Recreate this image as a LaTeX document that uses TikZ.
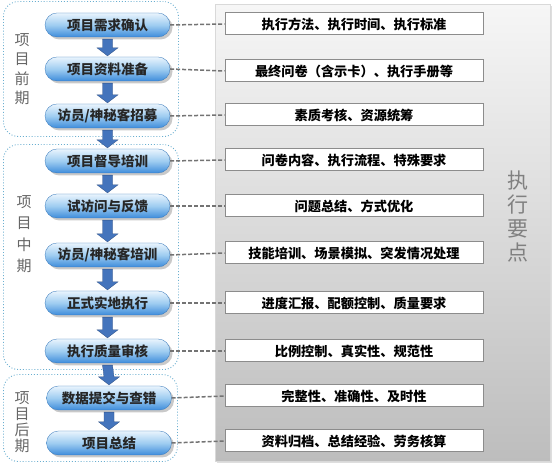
\documentclass[tikz,border=0pt]{standalone}
\usepackage{fontspec}
\newfontfamily\cjk{Noto Sans CJK SC}
\usetikzlibrary{calc,shadows}
\definecolor{pillTop}{HTML}{E9F4FD}
\definecolor{pillMid}{HTML}{9FCDF1}
\definecolor{pillBot}{HTML}{3E8CDB}
\definecolor{arrowBlue}{HTML}{4474BC}
\definecolor{grpLine}{HTML}{6AAFD0}
\definecolor{panelTop}{HTML}{F6F6F6}
\definecolor{panelBot}{HTML}{BDBDBD}
\tikzset{
  pill/.style={rectangle, rounded corners=12pt, minimum width=125pt, minimum height=24pt,
    top color=pillTop, bottom color=pillBot, middle color=pillMid,
    draw=pillBot!85!black, line width=0.3pt,
    drop shadow={shadow xshift=2.5pt, shadow yshift=-2.5pt, fill=black!35, opacity=0.6},
    font=\cjk\bfseries\fontsize{13.5}{15}\selectfont, text=black!85, inner sep=0pt},
  infobox/.style={rectangle, minimum width=258pt, minimum height=22pt, fill=white,
    draw=black!45, line width=1pt, font=\cjk\bfseries\fontsize{13.2}{15}\selectfont, inner sep=0pt},
  linkline/.style={draw=black!55, line width=1.5pt, dash pattern=on 4pt off 2pt},
  grpbox/.style={draw=grpLine, dotted, line width=0.9pt, rounded corners=15pt},
  grplabel/.style={font=\cjk\fontsize{15}{19.5}\selectfont, text=black!60, align=center, inner sep=0pt},
  panel/.style={top color=panelTop, bottom color=panelBot, draw=black!15, line width=0.5pt,
    drop shadow={shadow xshift=1.5pt, shadow yshift=-1.5pt, fill=black!25}},
  arrowfill/.style={fill=arrowBlue, draw=arrowBlue!70!black, line width=0.3pt}
}
\newcommand{\blkarrow}[2]{%
  \path[arrowfill] ($(#1.south)+(-5,-2)$) -- ($(#2.north)+(-5,9)$) -- ($(#2.north)+(-10.5,9)$)
    -- ($(#2.north)+(0,1)$) -- ($(#2.north)+(10.5,9)$) -- ($(#2.north)+(5,9)$)
    -- ($(#1.south)+(5,-2)$) -- cycle;}
\begin{document}
\begin{tikzpicture}[x=1pt,y=1pt]
\useasboundingbox (0,0) rectangle (556,473);
\fill[white] (0,0) rectangle (556,473);
% panel
\node[panel, rectangle, minimum width=335pt, minimum height=457pt, inner sep=0pt, anchor=south west] (panel) at (215,11) {};
\node[font=\cjk\fontsize{21}{24}\selectfont, text=black!50, align=center, inner sep=0pt] (kp) at (518,256) {执\\行\\要\\点};
% groups
\node[grpbox, minimum width=175pt, minimum height=135pt, anchor=south west] (g1) at (3,336) {};
\node[grpbox, minimum width=175pt, minimum height=225pt, anchor=south west] (g2) at (3,103) {};
\node[grpbox, minimum width=174pt, minimum height=87pt, anchor=south west] (g3) at (3,11) {};
\node[grplabel] (l1) at (22,404) {项\\目\\前\\期};
\node[grplabel, font=\cjk\fontsize{15}{21.5}\selectfont] (l2) at (24,239) {项\\目\\中\\期};
\node[grplabel, font=\cjk\fontsize{15}{16}\selectfont] (l3) at (22,51) {项\\目\\后\\期};
% pills
\node[pill] (p1) at (107.5,448) {项目需求确认};
\node[pill] (p2) at (107.5,404) {项目资料准备};
\node[pill] (p3) at (107.5,357) {访员/神秘客招募};
\node[pill] (p4) at (107.5,312) {项目督导培训};
\node[pill] (p5) at (107.5,267) {试访问与反馈};
\node[pill] (p6) at (107.5,218) {访员/神秘客培训};
\node[pill] (p7) at (107.5,170) {正式实地执行};
\node[pill] (p8) at (107.5,122) {执行质量审核};
\node[pill] (p9) at (109,75) {数据提交与查错};
\node[pill] (p10) at (109,30) {项目总结};
% boxes
\node[infobox] (b1) at (354,449) {执行方法、执行时间、执行标准};
\node[infobox] (b2) at (354,402) {最终问卷（含示卡）、执行手册等};
\node[infobox] (b3) at (354,358) {素质考核、资源统筹};
\node[infobox] (b4) at (354,313) {问卷内容、执行流程、特殊要求};
\node[infobox] (b5) at (354,267) {问题总结、方式优化};
\node[infobox] (b6) at (354,220) {技能培训、场景模拟、突发情况处理};
\node[infobox] (b7) at (354,170) {进度汇报、配额控制、质量要求};
\node[infobox] (b8) at (354,122) {比例控制、真实性、规范性};
\node[infobox] (b9) at (354,77) {完整性、准确性、及时性};
\node[infobox] (b10) at (354,32) {资料归档、总结经验、劳务核算};
% links
\foreach \i in {1,...,10} { \draw[linkline] (p\i.east) -- (b\i.west); }
% arrows
\blkarrow{p1}{p2}
\blkarrow{p2}{p3}
\blkarrow{p3}{p4}
\blkarrow{p4}{p5}
\blkarrow{p5}{p6}
\blkarrow{p6}{p7}
\blkarrow{p7}{p8}
\blkarrow{p8}{p9}
\blkarrow{p9}{p10}
\end{tikzpicture}
\end{document}
